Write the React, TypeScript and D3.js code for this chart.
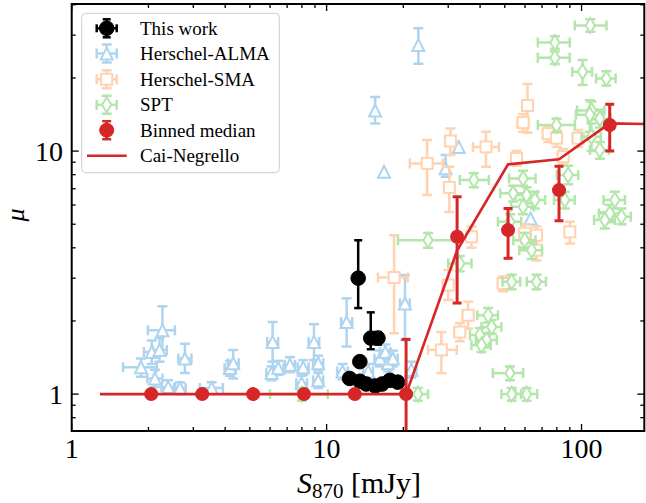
import React from 'react';
import * as d3 from 'd3';

// ---------- data: [S870, mu, S870 lower, S870 upper, mu lower, mu upper] ----------
const thisWork: number[][] = [
  [13.3, 3.0, 12.9, 13.7, 2.26, 4.3],
  [14.9, 1.70, 14.5, 15.3, 1.53, 2.17],
  [15.9, 1.70, 15.5, 16.3, 1.60, 1.80],
  [13.5, 1.36, 13.2, 13.8, 1.30, 1.42],
  [12.3, 1.16, 12.0, 12.6, 1.12, 1.20],
  [13.5, 1.13, 13.2, 13.8, 1.09, 1.17],
  [14.3, 1.10, 14.0, 14.6, 1.06, 1.14],
  [15.5, 1.08, 15.1, 15.9, 1.04, 1.12],
  [16.5, 1.10, 16.1, 16.9, 1.06, 1.14],
  [17.7, 1.14, 17.3, 18.1, 1.10, 1.18],
  [19.0, 1.12, 18.6, 19.4, 1.08, 1.16],
];

const herschelAlma: number[][] = [
  [2.27, 1.83, 1.99, 2.54, 1.46, 2.30],
  [2.06, 1.49, 1.92, 2.22, 1.33, 1.66],
  [2.21, 1.52, 2.08, 2.36, 1.36, 1.70],
  [1.87, 1.29, 1.59, 2.16, 1.18, 1.40],
  [2.78, 1.40, 2.62, 2.95, 1.22, 1.61],
  [2.12, 1.16, 1.98, 2.27, 1.07, 1.26],
  [2.39, 1.07, 2.25, 2.55, 1.01, 1.14],
  [2.66, 1.06, 2.52, 2.80, 1.00, 1.12],
  [3.54, 1.06, 3.18, 3.92, 1.00, 1.12],
  [4.18, 1.28, 3.98, 4.40, 1.19, 1.37],
  [4.30, 1.34, 4.10, 4.52, 1.16, 1.52],
  [6.14, 1.64, 5.85, 6.45, 1.36, 1.98],
  [6.08, 1.22, 5.80, 6.38, 1.14, 1.30],
  [6.46, 1.28, 6.15, 6.78, 1.20, 1.37],
  [7.18, 1.32, 6.85, 7.52, 1.23, 1.42],
  [8.09, 1.29, 7.70, 8.50, 1.20, 1.38],
  [8.92, 1.64, 8.50, 9.35, 1.38, 1.94],
  [9.27, 1.34, 8.85, 9.70, 1.25, 1.44],
  [9.27, 1.14, 8.85, 9.70, 1.06, 1.22],
  [7.98, 1.11, 7.60, 8.38, 1.03, 1.19],
  [11.98, 1.98, 11.4, 12.6, 1.57, 2.48],
  [11.55, 1.24, 11.0, 12.1, 1.15, 1.33],
  [14.56, 1.24, 13.9, 15.2, 1.15, 1.33],
  [16.18, 1.40, 15.4, 17.0, 1.30, 1.51],
  [17.0, 1.49, 16.2, 17.8, 1.38, 1.60],
  [17.4, 1.34, 16.6, 18.2, 1.24, 1.44],
  [18.2, 1.40, 17.4, 19.0, 1.30, 1.51],
  [20.3, 2.36, 19.4, 21.2, 1.67, 3.09],
  [21.5, 1.26, 20.5, 22.5, 1.17, 1.36],
  [22.9, 27.3, 22.9, 22.9, 22.9, 32.0],
  [15.5, 14.7, 15.5, 15.5, 13.0, 16.7],
  [16.8, 8.22, 16.8, 16.8, 8.22, 8.22],
  [33.0, 10.4, 33.0, 33.0, 10.4, 10.4],
  [29.3, 8.49, 29.3, 29.3, 7.84, 9.63],
  [63.1, 5.28, 63.1, 63.1, 5.28, 5.28],
];

const herschelSma: number[][] = [
  [18.4, 3.02, 15.9, 20.8, 1.78, 4.51],
  [61.4, 15.4, 58.5, 64.3, 11.9, 18.9],
  [59.0, 13.1, 56.2, 61.8, 12.0, 14.2],
  [74.0, 11.8, 70.5, 77.5, 10.9, 12.7],
  [79.8, 11.3, 76.0, 83.6, 10.4, 12.2],
  [97.0, 11.3, 92.4, 101.6, 10.4, 12.2],
  [30.6, 11.0, 29.2, 32.0, 9.63, 12.4],
  [42.2, 10.4, 37.5, 47.4, 8.62, 12.0],
  [24.8, 8.9, 21.2, 28.6, 6.59, 11.1],
  [30.3, 7.09, 29.0, 31.6, 5.62, 8.62],
  [55.6, 9.33, 53.0, 58.2, 8.7, 10.0],
  [84.7, 9.48, 80.7, 88.7, 8.8, 10.2],
  [90.0, 4.65, 87.0, 93.0, 4.17, 5.12],
  [66.6, 4.51, 63.5, 69.7, 4.1, 4.9],
  [59.9, 4.59, 57.1, 62.7, 4.2, 5.0],
  [66.6, 3.91, 63.5, 69.7, 3.55, 4.27],
  [49.3, 2.85, 47.0, 51.6, 2.65, 3.05],
  [37.0, 4.44, 35.3, 38.7, 4.0, 4.9],
  [35.9, 2.11, 34.2, 37.6, 1.86, 2.40],
  [33.3, 1.80, 31.7, 34.9, 1.65, 1.96],
  [28.2, 1.52, 25.0, 32.4, 1.22, 1.80],
  [30.0, 2.81, 28.6, 31.4, 2.44, 3.24],
];

const spt: number[][] = [
  [108.3, 32.9, 94.1, 125.3, 31.0, 34.9],
  [78.6, 28.0, 67.4, 89.9, 26.4, 29.7],
  [78.6, 24.2, 67.4, 89.9, 22.8, 25.7],
  [100.9, 21.2, 92.0, 110.0, 18.7, 23.7],
  [125.1, 19.9, 114.0, 136.0, 18.6, 21.3],
  [109.4, 14.7, 96.0, 123.0, 13.5, 16.0],
  [107.8, 14.1, 95.0, 121.0, 12.0, 16.2],
  [118.0, 13.6, 106.0, 130.0, 12.5, 14.8],
  [79.8, 12.8, 67.4, 94.2, 12.0, 13.6],
  [109.4, 11.45, 100.0, 119.0, 10.0, 13.0],
  [118.0, 10.1, 108.0, 128.0, 9.3, 10.9],
  [88.6, 7.97, 80.0, 97.0, 7.3, 8.7],
  [59.0, 7.72, 52.0, 66.0, 7.2, 8.3],
  [37.8, 7.60, 33.3, 43.3, 7.1, 8.1],
  [53.9, 6.70, 48.0, 60.0, 6.2, 7.2],
  [60.9, 6.59, 55.0, 67.0, 6.1, 7.1],
  [65.6, 6.29, 60.0, 72.0, 5.8, 6.8],
  [59.0, 5.90, 53.0, 65.0, 5.5, 6.3],
  [86.0, 6.29, 78.0, 94.0, 5.8, 6.8],
  [135.1, 6.29, 122.0, 148.0, 5.8, 6.8],
  [129.1, 5.54, 117.0, 141.0, 5.1, 6.0],
  [143.5, 5.37, 131.0, 156.0, 5.0, 5.8],
  [123.4, 5.20, 112.0, 135.0, 4.8, 5.6],
  [25.0, 4.30, 19.05, 32.4, 4.0, 4.6],
  [52.4, 5.12, 47.0, 58.0, 4.7, 5.5],
  [59.9, 4.30, 54.0, 66.0, 4.0, 4.6],
  [63.7, 3.91, 57.0, 70.0, 3.6, 4.2],
  [53.2, 2.90, 49.0, 57.5, 2.7, 3.1],
  [66.6, 2.90, 61.0, 72.5, 2.7, 3.1],
  [33.3, 3.45, 30.0, 37.0, 3.2, 3.7],
  [43.0, 2.11, 39.0, 47.0, 1.97, 2.26],
  [44.4, 1.89, 40.5, 48.5, 1.77, 2.02],
  [39.9, 1.75, 36.5, 43.5, 1.64, 1.87],
  [42.4, 1.67, 38.5, 46.5, 1.56, 1.78],
  [40.5, 1.59, 37.0, 44.0, 1.49, 1.70],
  [52.4, 1.22, 44.9, 59.0, 1.14, 1.30],
  [53.2, 1.00, 48.5, 58.0, 0.94, 1.06],
  [60.9, 1.00, 55.0, 67.0, 0.94, 1.06],
  [22.8, 1.00, 20.8, 25.0, 0.94, 1.06],
  [8.0, 1.00, 6.0, 10.1, 0.94, 1.06],
];

const binX = [2.05, 3.25, 5.15, 8.15, 12.9, 20.5, 32.5, 51.5, 81.6, 129];
const binMu = [1, 1, 1, 1, 1, 1, 4.44, 4.73, 6.91, 12.8];
const binLo = [1, 1, 1, 1, 1, 0.5, 2.37, 3.62, 5.17, 10.0];
const binHi = [1, 1, 1, 1, 1, 1.68, 6.49, 5.81, 8.67, 15.6];

const caiX = [1.29, 2.05, 3.25, 5.15, 8.15, 12.9, 20.5, 32.5, 51.5, 81.6, 129, 205];
const caiMu = [1, 1, 1, 1, 1, 1, 1, 3.9, 8.82, 9.25, 13.0, 12.9];

const xMajor = [1, 10, 100];
const xMajorLabels = ['1', '10', '100'];
const yMajor = [1, 10];
const yMajorLabels = ['1', '10'];
const legendLabels = ['This work', 'Herschel-ALMA', 'Herschel-SMA', 'SPT', 'Binned median', 'Cai-Negrello'];

// ---------- styles ----------
const BLUE = '#aed4f0';
const ORANGE = '#ffd2b0';
const GREEN = '#b4e6ac';
const RED = '#d62728';
const FONT = '"Liberation Serif", "Times New Roman", serif';

const L = 71.7, R = 644.3, T = 4, B = 431;
const xS = d3.scaleLog().domain([1, 176.3]).range([L, R]);
const yS = d3.scaleLog().domain([0.705, 40.3]).range([B, T]);

type Mk = 'tri' | 'sq' | 'dia' | 'circ';

function Marker({ type, cx, cy, color, fill, r }: { type: Mk; cx: number; cy: number; color: string; fill: string; r: number }) {
  if (type === 'circ') return <circle cx={cx} cy={cy} r={r} fill={fill} stroke={color} strokeWidth={1} />;
  if (type === 'tri') {
    const h = r;
    const p = `${cx},${cy - h} ${cx - h},${cy + h} ${cx + h},${cy + h}`;
    return <polygon points={p} fill={fill} stroke={color} strokeWidth={2} strokeLinejoin="miter" />;
  }
  if (type === 'sq') {
    return <rect x={cx - r} y={cy - r} width={2 * r} height={2 * r} fill={fill} stroke={color} strokeWidth={2} />;
  }
  const w = r * 0.62;
  const p = `${cx},${cy - r} ${cx + w},${cy} ${cx},${cy + r} ${cx - w},${cy}`;
  return <polygon points={p} fill={fill} stroke={color} strokeWidth={2} />;
}

function ErrSeries({ pts, color, fill, type, r, sw, cap }: { pts: number[][]; color: string; fill: string; type: Mk; r: number; sw: number; cap: number }) {
  return (
    <g>
      {pts.map((p, i) => {
        const [x, y, xl, xh, yl, yh] = p;
        const cx = xS(x), cy = yS(y);
        const els: React.ReactNode[] = [];
        if (xl !== xh) {
          const a = xS(xl), b = xS(xh);
          els.push(<line key="h" x1={a} x2={b} y1={cy} y2={cy} />);
          els.push(<line key="ha" x1={a} x2={a} y1={cy - cap} y2={cy + cap} />);
          els.push(<line key="hb" x1={b} x2={b} y1={cy - cap} y2={cy + cap} />);
        }
        if (yl !== yh) {
          const a = yS(yl), b = yS(yh);
          els.push(<line key="v" x1={cx} x2={cx} y1={a} y2={b} />);
          els.push(<line key="va" x1={cx - cap} x2={cx + cap} y1={a} y2={a} />);
          els.push(<line key="vb" x1={cx - cap} x2={cx + cap} y1={b} y2={b} />);
        }
        return <g key={i} stroke={color} strokeWidth={sw}>{els}</g>;
      })}
      {pts.map((p, i) => (
        <Marker key={'m' + i} type={type} cx={xS(p[0])} cy={yS(p[1])} color={color} fill={fill} r={r} />
      ))}
    </g>
  );
}

function LegendIcon({ type, cx, cy, color, fill, r, xbar, cap }: { type: Mk; cx: number; cy: number; color: string; fill: string; r: number; xbar: boolean; cap: number }) {
  const hx = 10, hy = 9;
  return (
    <g>
      <g stroke={color} strokeWidth={2.5}>
        {xbar && <line x1={cx - hx} x2={cx + hx} y1={cy} y2={cy} />}
        {xbar && <line x1={cx - hx} x2={cx - hx} y1={cy - cap} y2={cy + cap} />}
        {xbar && <line x1={cx + hx} x2={cx + hx} y1={cy - cap} y2={cy + cap} />}
        <line x1={cx} x2={cx} y1={cy - hy} y2={cy + hy} />
        <line x1={cx - cap} x2={cx + cap} y1={cy - hy} y2={cy - hy} />
        <line x1={cx - cap} x2={cx + cap} y1={cy + hy} y2={cy + hy} />
      </g>
      <Marker type={type} cx={cx} cy={cy} color={color} fill={fill} r={r} />
    </g>
  );
}

export default function App() {
  const xMinor: number[] = [];
  for (const d of [1, 10, 100]) for (let k = 2; k <= 9; k++) { const v = k * d; if (v < 176.3) xMinor.push(v); }
  const yMinor: number[] = [];
  for (const d of [0.1, 1, 10]) for (let k = 2; k <= 9; k++) { const v = k * d; if (v > 0.705 && v < 40.3) yMinor.push(v); }

  const line = d3.line<number>().x((_, i) => xS(caiX[i])).y((_, i) => yS(caiMu[i]));
  const linePath = line(caiMu) || '';

  const legX = 106.7, legTX = 140;
  const rows = [28.3, 53.5, 79.3, 104.8, 130.2, 155.7];

  return (
    <svg width={646} height={503} style={{ position: 'absolute', left: 0, top: 0, background: '#fff' }} fontFamily={FONT}>
      <defs>
        <clipPath id="plotclip"><rect x={L} y={T} width={R - L} height={B - T} /></clipPath>
      </defs>
      <rect x={0} y={0} width={646} height={503} fill="#fff" />
      <g clipPath="url(#plotclip)">
        <ErrSeries pts={herschelAlma} color={BLUE} fill="#fff" type="tri" r={6} sw={2.5} cap={5} />
        <ErrSeries pts={herschelSma} color={ORANGE} fill="#fff" type="sq" r={5.5} sw={2.5} cap={5} />
        <ErrSeries pts={spt} color={GREEN} fill="#fff" type="dia" r={7.5} sw={2.5} cap={5} />
        <ErrSeries pts={thisWork} color="#000" fill="#000" type="circ" r={7.3} sw={2.5} cap={4} />
        <path d={linePath} fill="none" stroke={RED} strokeWidth={2.6} />
        <g stroke={RED} strokeWidth={3}>
          {binX.map((x, i) => binLo[i] !== binHi[i] ? (
            <g key={i}>
              <line x1={xS(x)} x2={xS(x)} y1={yS(binLo[i])} y2={yS(binHi[i])} />
              <line x1={xS(x) - 4.5} x2={xS(x) + 4.5} y1={yS(binLo[i])} y2={yS(binLo[i])} />
              <line x1={xS(x) - 4.5} x2={xS(x) + 4.5} y1={yS(binHi[i])} y2={yS(binHi[i])} />
            </g>
          ) : null)}
        </g>
        {binX.map((x, i) => <circle key={i} cx={xS(x)} cy={yS(binMu[i])} r={7} fill={RED} />)}
      </g>

      {/* ticks */}
      <g stroke="#000" strokeWidth={1.3}>
        {xMajor.map((v) => (
          <g key={'xM' + v}>
            <line x1={xS(v)} x2={xS(v)} y1={B} y2={B - 7} />
            <line x1={xS(v)} x2={xS(v)} y1={T} y2={T + 7} />
          </g>
        ))}
        {xMinor.map((v) => (
          <g key={'xm' + v}>
            <line x1={xS(v)} x2={xS(v)} y1={B} y2={B - 4} />
            <line x1={xS(v)} x2={xS(v)} y1={T} y2={T + 4} />
          </g>
        ))}
        {yMajor.map((v) => (
          <g key={'yM' + v}>
            <line x1={L} x2={L + 7} y1={yS(v)} y2={yS(v)} />
            <line x1={R} x2={R - 7} y1={yS(v)} y2={yS(v)} />
          </g>
        ))}
        {yMinor.map((v) => (
          <g key={'ym' + v}>
            <line x1={L} x2={L + 4} y1={yS(v)} y2={yS(v)} />
            <line x1={R} x2={R - 4} y1={yS(v)} y2={yS(v)} />
          </g>
        ))}
      </g>
      <rect x={L} y={T} width={R - L} height={B - T} fill="none" stroke="#000" strokeWidth={2} />

      {xMajor.map((v, i) => (
        <text key={'xl' + v} x={xS(v)} y={458} textAnchor="middle" fontSize={28}>{xMajorLabels[i]}</text>
      ))}
      {yMajor.map((v, i) => (
        <text key={'yl' + v} x={63} y={yS(v) + 9.5} textAnchor="end" fontSize={28}>{yMajorLabels[i]}</text>
      ))}

      <text x={359} y={493} textAnchor="middle" fontSize={30}>
        <tspan fontStyle="italic">S</tspan>
        <tspan fontSize={21} dy={5}>870</tspan>
        <tspan dy={-5}> [mJy]</tspan>
      </text>
      <text transform="translate(24,215) rotate(-90)" textAnchor="middle" fontSize={26} fontStyle="italic">μ</text>

      {/* legend */}
      <rect x={81.7} y={13.3} width={197.6} height={159.4} rx={4} fill="#fff" fillOpacity={0.8} stroke="#cccccc" strokeWidth={1} />
      <LegendIcon type="circ" cx={legX} cy={rows[0]} color="#000" fill="#000" r={7.3} xbar={true} cap={4} />
      <LegendIcon type="tri" cx={legX} cy={rows[1]} color={BLUE} fill="#fff" r={6} xbar={true} cap={5} />
      <LegendIcon type="sq" cx={legX} cy={rows[2]} color={ORANGE} fill="#fff" r={5.5} xbar={true} cap={5} />
      <LegendIcon type="dia" cx={legX} cy={rows[3]} color={GREEN} fill="#fff" r={7.5} xbar={true} cap={5} />
      <LegendIcon type="circ" cx={legX} cy={rows[4]} color={RED} fill={RED} r={7} xbar={false} cap={4.5} />
      <line x1={87} x2={126.7} y1={rows[5]} y2={rows[5]} stroke={RED} strokeWidth={2.6} />
      {legendLabels.map((t, i) => (
        <text key={t} x={legTX} y={rows[i] + 6.5} fontSize={19}>{t}</text>
      ))}
    </svg>
  );
}
